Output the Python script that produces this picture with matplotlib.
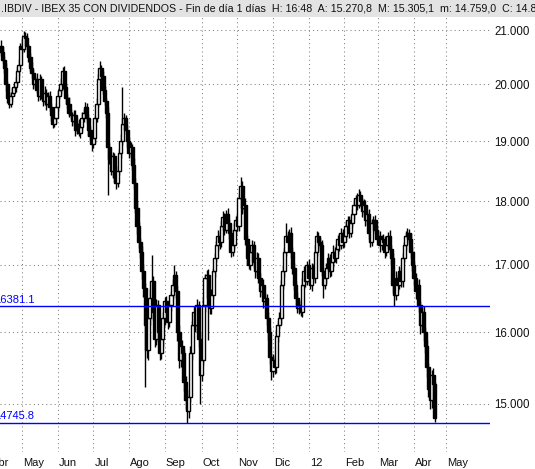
import matplotlib
matplotlib.use('Agg')
import matplotlib.pyplot as plt
import matplotlib.transforms as mtransforms
from matplotlib.patches import Rectangle
from matplotlib.ticker import NullLocator
import numpy as np

plt.rcParams['font.family'] = ['Liberation Sans', 'DejaVu Sans']

# daily closes, IBEX 35 con dividendos
closes = [
    20600, 20450, 20300, 20000, 19750, 19650, 19800, 19850, 19950, 20050,
    20250, 20350, 20700, 20650, 20900, 20850, 20700, 20500, 20300, 20200,
    20000, 20100, 19900, 19800, 20100, 19800, 19700, 19850, 19650, 19800,
    19600, 19450, 19300, 19400, 19600, 19800, 19900, 20000, 20250, 19950,
    19750, 19650, 19500, 19450, 19350, 19450, 19200, 19300, 19150, 19250,
    19400, 19500, 19600, 19400, 19200, 19100, 18950, 19050, 19400, 19650,
    20100, 20300, 20150, 19900, 19700, 19500, 18900, 18700, 18500, 18750,
    18400, 18300, 18500, 18800, 19000, 19300, 19400, 19200, 19000, 18800,
    18900, 18600, 18300, 17900, 17600, 17350, 17200, 16900, 16650, 16100,
    15750, 16200, 16500, 16750, 16300, 15900, 16400, 16000, 15700, 15900,
    16200, 16450, 16300, 16150, 16400, 16550, 16700, 16850, 16600, 16000,
    15600, 15800, 15700, 15300, 15050, 14900, 15100, 15700, 16100, 16300,
    16100, 16400, 15900, 15400, 15600, 16400, 16800, 16850, 16500, 16350,
    16550, 16900, 17100, 17300, 17450, 17350, 17600, 17750, 17550, 17800,
    17650, 17500, 17200, 17300, 17550, 17700, 17600, 18050, 18250, 17900,
    17950, 17400, 17100, 17000, 17200, 17300, 17050, 16900, 17100, 16800,
    16600, 16700, 16450, 16500, 16200, 16000, 15650, 15450, 15600, 15500,
    15950, 16100, 16200, 16700, 16900, 17200, 17450, 17350, 17500, 17200,
    16950, 16700, 16500, 16350, 16400, 16300, 16700, 16900, 16750, 17000,
    16800, 16700, 16950, 16800, 17200, 17450, 17350, 17300, 16900, 16700,
    16800, 16950, 17100, 16900, 17050, 17200, 17100, 17250, 17400, 17300,
    17500, 17350, 17450, 17600, 17700, 17500, 17650, 17800, 17950, 18050,
    17950, 18100, 18000, 17850, 17950, 17700, 17800, 17500, 17350, 17650,
    17700, 17550, 17400, 17450, 17300, 17400, 17350, 17200, 17300, 17450,
    17250, 17100, 16700, 16550, 16800, 16700, 16900, 16750, 17100, 17300,
    17450, 17500, 17400, 17200, 17000, 16800, 16600, 16700, 16400, 16100,
    16300, 16000, 15800, 15500, 15200, 15050, 15400, 15270, 14810,
]
first_open = 20700

# distance of the high above / low below the body, in points
wick_up = [
    120, 80, 60, 90, 70, 100, 60, 80, 50, 90,
    70, 110, 60, 130, 80, 60, 90, 50, 70, 100,
    80, 60, 110, 70, 90, 60, 80, 120, 60, 70,
    90, 60, 70, 100, 60, 80, 50, 110, 70, 90,
    60, 80, 120, 70, 60, 90, 100, 60, 80, 70,
    110, 60, 90, 70, 80, 60, 70, 90, 60, 100,
    80, 120, 60, 90, 70, 60, 100, 80, 90, 70,
    60, 100, 80, 70, 120, 650, 90, 60, 80, 70,
    90, 60, 120, 80, 100, 70, 60, 90, 110, 80,
    120, 90, 140, 400, 80, 100, 90, 70, 110, 80,
    90, 60, 80, 100, 70, 60, 90, 150, 60, 80,
    100, 70, 90, 60, 80, 70, 90, 100, 60, 80,
    70, 90, 60, 110, 80, 100, 60, 70, 90, 60,
    80, 60, 90, 70, 100, 60, 80, 90, 70, 60,
    90, 70, 60, 80, 100, 60, 90, 70, 150, 80,
    60, 100, 70, 80, 60, 90, 70, 60, 100, 80,
    70, 60, 90, 80, 60, 100, 70, 60, 90, 70,
    80, 60, 90, 70, 100, 60, 200, 80, 60, 90,
    70, 80, 60, 90, 70, 60, 100, 80, 70, 60,
    90, 70, 80, 60, 100, 70, 60, 90, 80, 70,
    60, 80, 90, 70, 60, 100, 80, 70, 60, 90,
    70, 60, 80, 90, 70, 60, 100, 80, 70, 60,
    80, 100, 70, 60, 90, 80, 60, 70, 90, 60,
    70, 80, 60, 90, 70, 60, 80, 100, 70, 60,
    90, 60, 80, 70, 100, 60, 80, 70, 90, 60,
    70, 80, 60, 90, 70, 60, 80, 70, 90, 60,
    100, 80, 70, 90, 60, 80, 70, 90, 35,
]
wick_dn = [
    80, 60, 100, 120, 90, 70, 60, 90, 50, 80,
    60, 90, 70, 80, 60, 100, 70, 90, 60, 80,
    90, 70, 60, 100, 80, 60, 90, 70, 110, 60,
    80, 100, 70, 60, 90, 80, 60, 70, 90, 60,
    100, 70, 80, 60, 90, 70, 100, 80, 60, 90,
    70, 60, 90, 80, 100, 70, 110, 60, 80, 70,
    60, 90, 70, 80, 60, 100, 800, 90, 70, 120,
    80, 100, 70, 60, 90, 60, 80, 70, 100, 90,
    70, 90, 100, 80, 120, 90, 100, 110, 130, 870,
    120, 150, 100, 90, 130, 110, 90, 140, 100, 80,
    100, 90, 80, 110, 70, 90, 60, 80, 100, 120,
    110, 90, 100, 130, 120, 155, 90, 80, 100, 70,
    90, 80, 110, 400, 90, 70, 100, 80, 610, 90,
    80, 70, 90, 60, 80, 100, 70, 90, 80, 60,
    90, 100, 80, 70, 60, 90, 80, 70, 60, 100,
    80, 90, 100, 70, 80, 60, 90, 100, 70, 80,
    90, 70, 100, 80, 90, 110, 100, 120, 80, 90,
    70, 90, 60, 80, 70, 90, 60, 80, 70, 100,
    90, 80, 100, 70, 90, 60, 80, 70, 90, 60,
    80, 70, 90, 60, 80, 70, 90, 80, 70, 200,
    70, 80, 60, 90, 70, 80, 60, 70, 90, 80,
    60, 90, 70, 80, 60, 90, 70, 60, 80, 70,
    90, 60, 80, 100, 70, 90, 80, 100, 70, 60,
    80, 70, 90, 60, 100, 70, 80, 90, 60, 70,
    90, 100, 120, 170, 80, 100, 70, 90, 80, 60,
    70, 90, 80, 100, 90, 110, 120, 80, 100, 130,
    90, 120, 100, 130, 110, 120, 100, 90, 51,
]

month_labels = ['Abr', 'May', 'Jun', 'Jul', 'Ago', 'Sep', 'Oct', 'Nov', 'Dic',
                '12', 'Feb', 'Mar', 'Abr', 'May']
month_starts = [-6, 13, 35, 57, 79, 101, 124, 146, 168, 190, 212, 233, 255, 275]
price_ticks = [15000, 16000, 17000, 18000, 19000, 20000, 21000]
levels = [16381.1, 14745.8]
header = ('.IBDIV - IBEX 35 CON DIVIDENDOS - Fin de día 1 días  H: 16:48  '
          'A: 15.270,8  M: 15.305,1  m: 14.759,0  C: 14.81')

closes = np.array(closes, dtype=float)
opens = np.concatenate([[first_open], closes[:-1]])
highs = np.maximum(opens, closes) + np.array(wick_up)
lows = np.minimum(opens, closes) - np.array(wick_dn)
idx = np.arange(len(closes))
rising = closes > opens

W, H = 535, 469
fig = plt.figure(figsize=(W / 100, H / 100), dpi=100)
fig.patch.set_facecolor('white')

# grey header strip
fig.patches.append(Rectangle((0, 1 - 17 / H), 1, 17 / H, transform=fig.transFigure,
                             facecolor='#E3E3E3', edgecolor='none', zorder=0))
fig.text(1 / W, 1 - 8.5 / H, header, fontsize=7.65, va='center', ha='left', color='#101010')

ax = fig.add_axes([0, (H - 452) / H, 490 / W, (452 - 17) / H])
ax.set_yscale('log')
ax.set_xlim(-0.6, 302)
ax.set_ylim(14364, 21252)

# candles: wicks first, bodies on top
ax.vlines(idx, lows, highs, color='black', linewidth=1.0, zorder=2)
ax.bar(idx, np.abs(closes - opens), bottom=np.minimum(opens, closes), width=1.9,
       color=np.where(rising, 'white', 'black'), edgecolor='black', linewidth=1.0, zorder=3)

# support levels
blend = mtransforms.blended_transform_factory(ax.transAxes, ax.transData)
for v in levels:
    ax.axhline(v, color='#0000FF', linewidth=1, zorder=4)
    ax.annotate(f'{v:.1f}', xy=(0, v), xycoords=blend, xytext=(-6, 1.5),
                textcoords='offset pixels', ha='left', va='bottom',
                fontsize=8, color='#0000FF', annotation_clip=False)

# grid + axes
ax.set_xticks(month_starts[1:])
ax.set_yticks(price_ticks)
ax.yaxis.set_minor_locator(NullLocator())
ax.set_yticklabels([f'{v:,}'.replace(',', '.') for v in price_ticks])
ax.yaxis.tick_right()
ax.tick_params(axis='y', length=0, pad=3, labelsize=8.3, labelcolor='#101010')
ax.tick_params(axis='x', length=0, labelbottom=False)
ax.grid(True, color='#808080', linestyle=(0, (1, 3)), linewidth=0.75, zorder=0)
ax.set_axisbelow(True)
for s in ax.spines.values():
    s.set_visible(False)

xblend = mtransforms.blended_transform_factory(ax.transData, ax.transAxes)
for pos, lab in zip(month_starts, month_labels):
    ax.text(pos + 0.7, -11 / 435, lab, transform=xblend, ha='left', va='center',
            fontsize=8, color='#101010', clip_on=False)

fig.savefig('out.png', dpi=100)
